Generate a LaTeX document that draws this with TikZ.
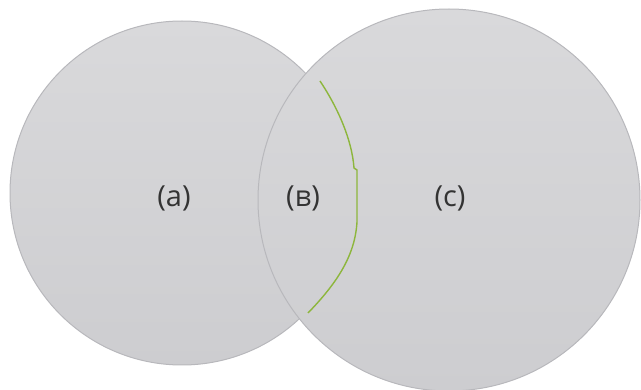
\documentclass[tikz,border=0pt]{standalone}
\usepackage{fontspec}
\setmainfont{Open Sans}
\usepackage{xcolor}
\usetikzlibrary{positioning}

\definecolor{discgray}{HTML}{D3D3D6}
\definecolor{disctop}{HTML}{D9D9DB}
\definecolor{discbot}{HTML}{CDCDD0}
\definecolor{rimgray}{HTML}{B8B8BC}
\definecolor{cutgreen}{HTML}{8DB63C}
\definecolor{labelgray}{HTML}{333333}

\tikzset{
	disc/.style={draw=rimgray, line width=1pt, top color=disctop, bottom color=discbot},
	setlabel/.style={font=\fontsize{29}{34}\selectfont, text=labelgray, inner sep=0pt}
}

\begin{document}
\begin{tikzpicture}[x=1pt,y=-1pt]
		
		\useasboundingbox (0,0) rectangle (641,390);
		
		% Discs
		\draw[disc] (182,193) circle (172);
		\draw[disc] (449,200) circle (191);
		
		% Cut line
		\draw[cutgreen, line width=1.4pt]
		(320,81)
		.. controls (338,108) and (352,140) ..
		(354,168) -- (357,170) -- (357,222)
		.. controls (355,255) and (338,282) ..
		(308,313);
		
		% Labels
		\node[setlabel] (a) at (174,198) {(a)};
		\node[setlabel] (b) at (303,198) {(в)};
		\node[setlabel] (c) at (450,198) {(c)};
		
	\end{tikzpicture}
\end{document}
